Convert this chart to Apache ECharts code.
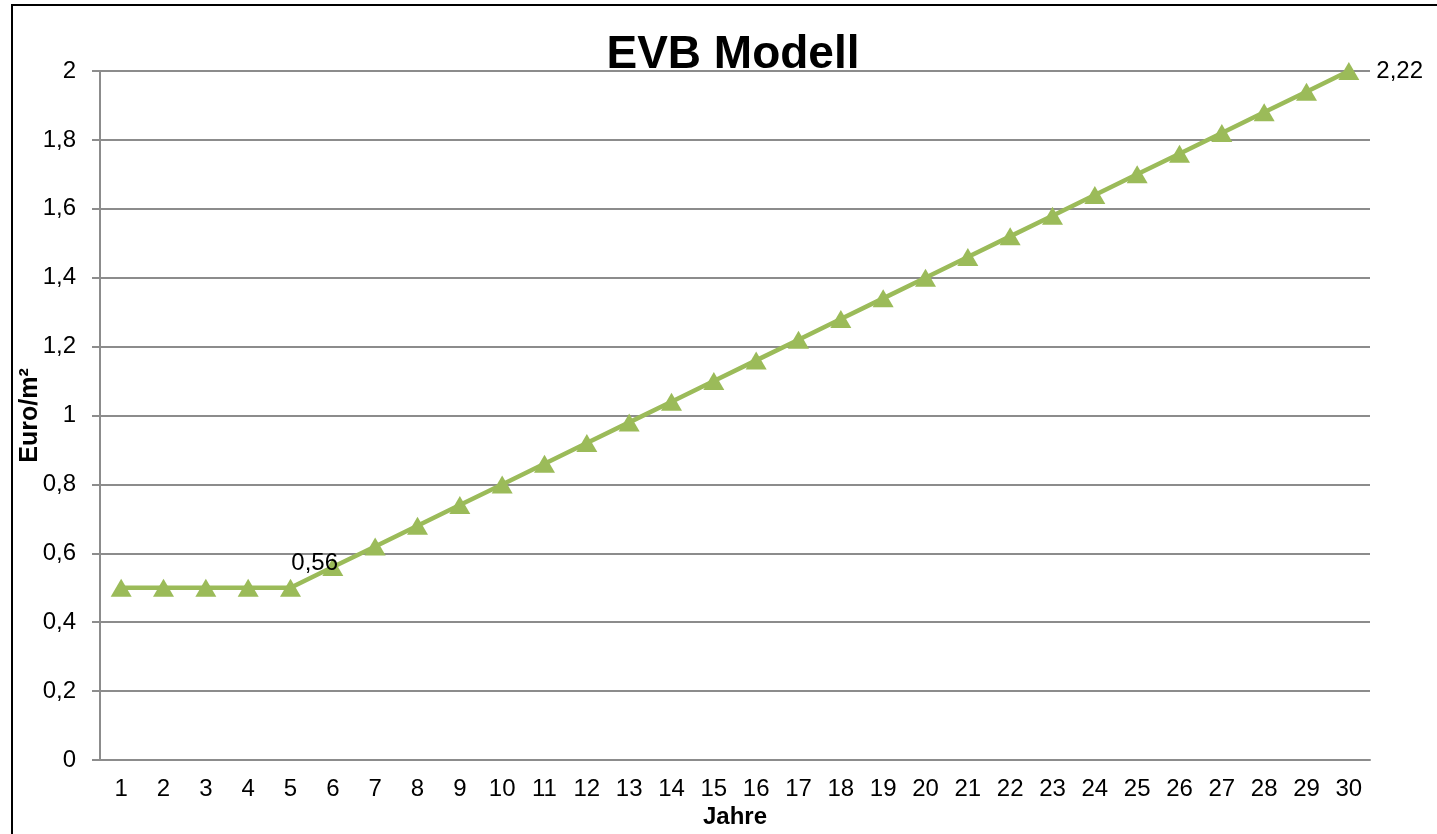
<!DOCTYPE html>
<html>
<head>
<meta charset="utf-8">
<script src="https://cdn.jsdelivr.net/npm/echarts@6/dist/echarts.min.js"></script>
<style>
html, body { margin: 0; padding: 0; background: #fff; }
#chart { width: 1437px; height: 834px; }
</style>
</head>
<body>
<div id="chart"></div>
<script>
var jahre = [];
for (var j = 1; j <= 30; j++) jahre.push(String(j));
// Euro/m² pro Jahr
var werte = [0.5, 0.5, 0.5, 0.5, 0.5, 0.56, 0.62, 0.68, 0.74, 0.8,
    0.86, 0.92, 0.98, 1.04, 1.1, 1.16, 1.22, 1.28, 1.34, 1.4,
    1.46, 1.52, 1.58, 1.64, 1.7, 1.76, 1.82, 1.88, 1.94, 2.0];
// beschriftete Punkte: index -> text
var beschriftung = { 5: '0,56', 29: '2,22' };

var grau = '#8c8c8c';
var grafico = echarts.init(document.getElementById('chart'));
grafico.setOption({
    animation: false,
    textStyle: { fontFamily: 'Liberation Sans, Arial, sans-serif' },
    title: {
        text: 'EVB Modell',
        left: 728,
        top: 27,
        textAlign: 'center',
        textStyle: { fontSize: 46, fontWeight: 'bold', color: '#000' }
    },
    graphic: [{
        type: 'rect',
        shape: { x: 12, y: 5, width: 1440, height: 840 },
        style: { fill: null, stroke: '#000', lineWidth: 2 }
    }],
    grid: { left: 100, right: 67, top: 71, bottom: 74, outerBoundsMode: 'none' },
    xAxis: {
        type: 'category',
        data: jahre,
        boundaryGap: true,
        name: 'Jahre',
        nameLocation: 'middle',
        nameGap: 45,
        nameMoveOverlap: false,
        nameTextStyle: { fontSize: 24, fontWeight: 'bold', color: '#000' },
        axisLine: { lineStyle: { color: grau, width: 2 } },
        axisTick: { length: 8, lineStyle: { color: grau, width: 2 } },
        axisLabel: { fontSize: 24, color: '#000', margin: 17 }
    },
    yAxis: {
        type: 'value',
        min: 0,
        max: 2,
        interval: 0.2,
        name: 'Euro/m²',
        nameLocation: 'middle',
        nameGap: 57,
        nameMoveOverlap: false,
        nameTextStyle: { fontSize: 25, fontWeight: 'bold', color: '#000' },
        axisLine: { show: true, lineStyle: { color: grau, width: 2 } },
        axisTick: { show: true, length: 8, lineStyle: { color: grau, width: 2 } },
        axisLabel: {
            fontSize: 24, color: '#000', margin: 24,
            formatter: function (v) { return String(Math.round(v * 10) / 10).replace('.', ','); }
        },
        splitLine: { lineStyle: { color: grau, width: 2 } }
    },
    series: [{
        type: 'line',
        data: werte.map(function (v, i) {
            var d = { value: v };
            if (beschriftung[i]) {
                d.label = {
                    show: true,
                    formatter: beschriftung[i],
                    fontSize: 24,
                    color: '#000',
                    position: i === 29 ? 'right' : [-31, -7],
                    distance: 17
                };
            }
            return d;
        }),
        symbol: 'triangle',
        symbolSize: [21, 18],
        clip: false,
        lineStyle: { color: '#9bbb59', width: 4.5 },
        itemStyle: { color: '#9bbb59' }
    }]
});
</script>
</body>
</html>
